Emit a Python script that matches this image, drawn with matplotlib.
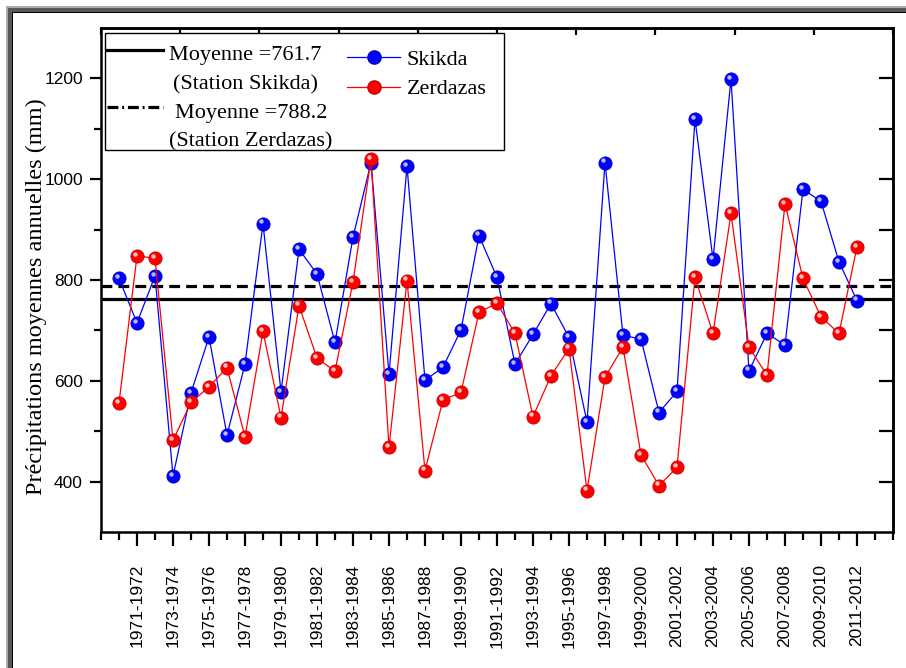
import numpy as np
import matplotlib
matplotlib.use('Agg')
import matplotlib.pyplot as plt
from matplotlib.lines import Line2D
from matplotlib.patches import Rectangle
from matplotlib.transforms import offset_copy
from matplotlib.legend_handler import HandlerLine2D

# hydrological years 1970-1971 ... 2011-2012
periods = ['%d-%d' % (y, y + 1) for y in range(1970, 2012)]

skikda = [803, 715, 808, 411, 576, 687, 492, 633, 912, 578,
          861, 812, 676, 885, 1033, 613, 1026, 601, 627, 701,
          888, 805, 633, 692, 753, 686, 518, 1033, 690, 683,
          537, 579, 1119, 841, 1199, 620, 694, 671, 980, 956,
          836, 759]
zerdazas = [556, 848, 843, 482, 557, 588, 626, 489, 698, 527,
            749, 645, 619, 796, 1040, 468, 799, 422, 562, 577,
            736, 754, 694, 529, 610, 664, 382, 607, 667, 453,
            392, 428, 805, 694, 932, 667, 611, 951, 803, 727,
            694, 866]
mean_skikda = 761.7
mean_zerdazas = 788.2

serif = ['Liberation Serif', 'DejaVu Serif']
sans = ['Liberation Sans', 'DejaVu Sans']


class TopLineHandler(HandlerLine2D):
    # put the legend line next to the first line of a two-line label
    def create_artists(self, legend, orig_handle, xdescent, ydescent, width, height, fontsize, trans):
        arts = super().create_artists(legend, orig_handle, xdescent, ydescent, width, height, fontsize, trans)
        for a in arts:
            a.set_ydata(np.asarray(a.get_ydata()) + 14)
        return arts


fig = plt.figure(figsize=(9.06, 6.68), dpi=100)
W, H = 906.0, 668.0

# screenshot-like border (light gray, dark gray, black)
for off, col in [(6, '#ababab'), (8, '#585858'), (12, '#000000'), (13, '#ffffff')]:
    fig.add_artist(Rectangle((off / W, 0), 1.0, 1 - off / H, transform=fig.transFigure,
                             facecolor=col, edgecolor='none', zorder=-10 + off * 0.01))

ax = fig.add_axes([101 / W, 1 - 532 / H, 792 / W, 504 / H])
x = np.arange(len(periods))

ax.axhline(mean_skikda, color='black', lw=2.3, zorder=2)
ax.axhline(mean_zerdazas, color='black', lw=2.3, dashes=(3.4, 1.9), zorder=2)

ax.plot(x, skikda, color='blue', lw=0.9, marker='o', ms=9.5, mec='#0000c8', mew=0.6, zorder=3)
ax.plot(x, zerdazas, color='red', lw=0.9, marker='o', ms=9.5, mec='#c80000', mew=0.6, zorder=4)

# little shine on the balls
tr = offset_copy(ax.transData, fig=fig, x=-1.6, y=1.6, units='points')
ax.plot(x, skikda, ls='none', marker='o', ms=3.2, color='#b8b8ff', mew=0, transform=tr, zorder=3.5)
ax.plot(x, zerdazas, ls='none', marker='o', ms=3.2, color='#ffc0c0', mew=0, transform=tr, zorder=4.5)

ax.set_xlim(-1, 43)
ax.set_ylim(300, 1300)

ax.set_xticks(x[1::2])
ax.set_xticklabels(periods[1::2], rotation=90, family=sans, fontsize=12.5)
ax.set_xticks([i for i in range(-1, 44) if i not in x[1::2]], minor=True)
ax.tick_params(axis='x', which='major', length=10, width=1.6, direction='out', pad=13)
ax.tick_params(axis='x', which='minor', length=6, width=1.6, direction='out')

ax.set_yticks([400, 600, 800, 1000, 1200])
ax.set_yticks([500, 700, 900, 1100], minor=True)
ax.tick_params(axis='y', which='major', length=8, width=1.6, direction='out', pad=5)
ax.tick_params(axis='y', which='minor', length=5, width=1.6, direction='out')
for t in ax.get_yticklabels():
    t.set_family(sans)
    t.set_fontsize(12.5)

# right and top axes, ticks pointing in
axr = ax.secondary_yaxis('right')
axr.set_yticks([400, 500, 600, 700, 800, 900, 1000, 1100, 1200])
axr.tick_params(length=10, width=1.6, direction='in', labelright=False)
axt = ax.secondary_xaxis('top')
axt.set_xticks(np.linspace(-1, 43, 11))
axt.tick_params(length=5, width=1.6, direction='in', labeltop=False)

for s in ax.spines.values():
    s.set_linewidth(1.8)
axr.spines['right'].set_linewidth(1.8)
axt.spines['top'].set_linewidth(1.8)

ax.set_ylabel('Précipitations moyennes annuelles (mm)', family=serif, fontsize=17.5)
ax.yaxis.set_label_coords(-0.068, 0.467)

# legend: one white box, two columns placed on their own
ax.add_patch(Rectangle((4 / 792, (532 - 150) / 504), 399 / 792, 117 / 504, transform=ax.transAxes,
                       facecolor='white', edgecolor='black', lw=1.0, zorder=6))

mean_handles = [Line2D([], [], color='black', lw=2.3),
                Line2D([], [], color='black', lw=2.3, dashes=(3.4, 1.2, 0.6, 1.2))]
mean_labels = ['Moyenne =%.1f\n(Station Skikda)' % mean_skikda,
               'Moyenne =%.1f\n(Station Zerdazas)' % mean_zerdazas]
leg1 = ax.legend(mean_handles, mean_labels, loc='upper left',
                 bbox_to_anchor=((107 - 101) / 792, (532 - 46) / 504),
                 borderaxespad=0, borderpad=0, frameon=False, prop={'family': serif, 'size': 16},
                 handlelength=2.5, handletextpad=0.3, labelspacing=0.42,
                 handler_map={h: TopLineHandler() for h in mean_handles})
leg1.set_zorder(7)
for t in leg1.get_texts():
    t.set_multialignment('center')
    t.set_linespacing(1.7)
ax.add_artist(leg1)

series_handles = [Line2D([], [], color='blue', lw=0.9, marker='o', ms=9.5, mec='#0000c8'),
                  Line2D([], [], color='red', lw=0.9, marker='o', ms=9.5, mec='#c80000')]
leg2 = ax.legend(series_handles, ['Skikda', 'Zerdazas'], loc='upper left',
                 bbox_to_anchor=((347 - 101) / 792, (532 - 49) / 504),
                 borderaxespad=0, borderpad=0, frameon=False, prop={'family': serif, 'size': 16},
                 handlelength=2.4, handletextpad=0.3, labelspacing=0.42)
leg2.set_zorder(7)

fig.savefig('out.png', dpi=100)
